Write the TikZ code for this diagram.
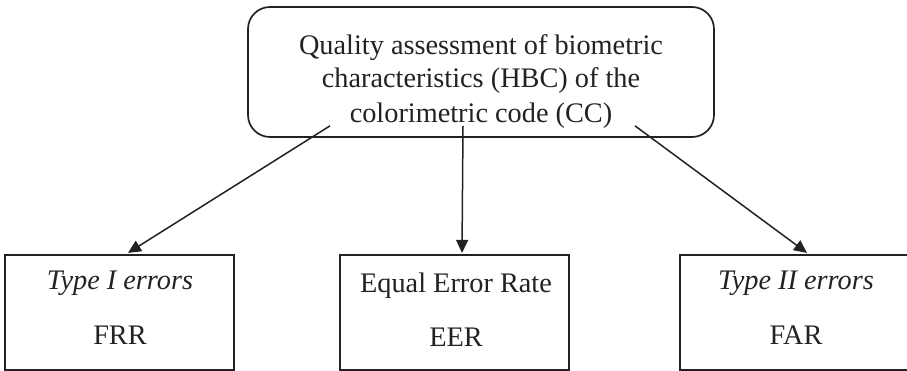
\documentclass[tikz,border=0pt]{standalone}
\usepackage{fontspec}
\setmainfont{Liberation Serif}
\usetikzlibrary{arrows.meta,calc}
\definecolor{ink}{HTML}{222222}
\begin{document}
\begin{tikzpicture}[x=1pt,y=-1pt,
  txt/.style={font=\fontsize{28.3}{34}\selectfont, text=ink, inner sep=0pt, anchor=base},
  topbox/.style={draw=ink, line width=1.7pt, rounded corners=22pt, minimum width=466pt, minimum height=130pt, inner sep=0pt},
  errbox/.style={draw=ink, line width=2.2pt, minimum width=229pt, minimum height=115pt, inner sep=0pt},
  link/.style={draw=ink, line width=1.5pt, -{Triangle[length=13pt,width=12pt]}}]
\useasboundingbox (0,0) rectangle (907,371);

% boxes
\node[topbox] (top) at (481,72) {};
\node[errbox] (frr) at (119.5,312.5) {};
\node[errbox] (eer) at (454.5,312.5) {};
\node[errbox] (far) at (794.5,312.5) {};

% texts
\node[txt] (t1) at (481,55) {Quality assessment of biometric};
\node[txt] (t2) at (481,88) {characteristics (HBC) of the};
\node[txt] (t3) at (481,123) {colorimetric code (CC)};

\node[txt] (frr1) at (120,290) {\itshape Type I errors};
\node[txt] (frr2) at (120,344) {FRR};
\node[txt] (eer1) at (456,292) {Equal Error Rate};
\node[txt] (eer2) at (456,346) {EER};
\node[txt] (far1) at (796,290) {\itshape Type II errors};
\node[txt] (far2) at (796,344) {FAR};

% connectors
\coordinate (s1) at ($(top.south)+(-151,-12)$);
\coordinate (s2) at ($(top.south)+(-18,-12)$);
\coordinate (s3) at ($(top.south)+(154,-12)$);
\draw[link] (s1) -- ($(frr.north)+(8.5,-1)$);
\draw[link] (s2) -- ($(eer.north)+(7.5,-1)$);
\draw[link] (s3) -- ($(far.north)+(12.5,-1)$);
\end{tikzpicture}
\end{document}
